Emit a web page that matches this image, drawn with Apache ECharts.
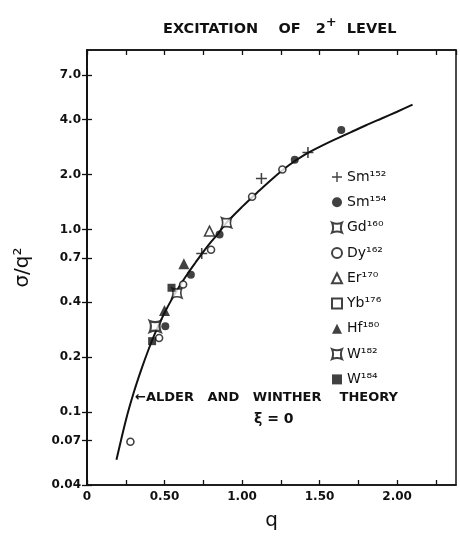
<!DOCTYPE html>
<html>
<head>
<meta charset="utf-8">
<script src="https://cdn.jsdelivr.net/npm/echarts@6/dist/echarts.min.js"></script>
<style>
  html, body { margin: 0; padding: 0; background: #fff; }
  #chart { width: 460px; height: 536px; }
</style>
</head>
<body>
<div id="chart"></div>
<script>
// measured points [q, sigma/q^2]
var sm152 = [[0.74, 0.74], [1.125, 1.90], [1.425, 2.64]];
var sm154 = [[0.505, 0.296], [0.67, 0.565], [0.855, 0.94], [1.34, 2.41], [1.64, 3.5]];
var gd160 = [[0.58, 0.45], [0.90, 1.09]];
var dy162 = [[0.28, 0.069], [0.465, 0.255], [0.62, 0.50], [0.80, 0.775], [1.065, 1.51], [1.26, 2.13]];
var er170 = [[0.79, 0.98]];
var yb176 = [];
var hf180 = [[0.50, 0.36], [0.625, 0.65]];
var w182 = [[0.44, 0.295]];
var w184 = [[0.42, 0.245], [0.545, 0.48]];

// Alder & Winther theory curve (xi = 0)
var theoryQ = [0.19, 0.25, 0.30, 0.35, 0.40, 0.45, 0.50, 0.55, 0.60, 0.65, 0.70, 0.75, 0.80, 0.85, 0.90,
               1.00, 1.10, 1.20, 1.30, 1.40, 1.50, 1.60, 1.70, 1.80, 1.90, 2.00, 2.10];
var theoryS = [0.055, 0.09, 0.127, 0.171, 0.224, 0.285, 0.35, 0.42, 0.495, 0.575, 0.66, 0.755, 0.855, 0.96, 1.09,
               1.33, 1.60, 1.91, 2.24, 2.55, 2.83, 3.11, 3.40, 3.72, 4.05, 4.41, 4.82];

// tick labels
var yTickVals = [0.04, 0.07, 0.1, 0.2, 0.4, 0.7, 1, 2, 4, 7];
var yTickText = ['0.04', '0.07', '0.1', '0.2', '0.4', '0.7', '1.0', '2.0', '4.0', '7.0'];
var xTickVals = [0, 0.5, 1, 1.5, 2];
var xTickText = ['0', '0.50', '1.00', '1.50', '2.00'];

var FONT = 'DejaVu Sans';
var ink = '#111';

var crossSym = 'path://M0,0 Q5,2.2 10,0 Q7.8,5 10,10 Q5,7.8 0,10 Q2.2,5 0,0 Z';
var plusSym = 'path://M4.3,0 L5.7,0 L5.7,4.3 L10,4.3 L10,5.7 L5.7,5.7 L5.7,10 L4.3,10 L4.3,5.7 L0,5.7 L0,4.3 L4.3,4.3 Z';

function pts(name, data, symbol, size, filled, bw) {
    return {
        name: name,
        type: 'scatter',
        data: data,
        symbol: symbol,
        symbolSize: size,
        itemStyle: {
            color: filled ? ink : '#fff',
            borderColor: ink,
            borderWidth: bw
        },
        z: 3
    };
}

var chart = echarts.init(document.getElementById('chart'));
var option = {
    animation: false,
    title: {
        text: '{a|EXCITATION    OF   2}{s|+}{a|  LEVEL}',
        left: 158,
        top: 11,
        textStyle: {
            rich: {
                a: { fontFamily: FONT, fontSize: 14.5, fontWeight: 'bold', color: ink, verticalAlign: 'bottom' },
                s: { fontFamily: FONT, fontSize: 13, fontWeight: 'bold', color: ink, verticalAlign: 'top', padding: [0, 0, 8, 0] }
            }
        }
    },
    legend: {
        orient: 'vertical',
        left: 326,
        top: 165,
        itemWidth: 10,
        itemHeight: 10,
        itemGap: 11.3,
        data: ['Sm¹⁵²', 'Sm¹⁵⁴', 'Gd¹⁶⁰', 'Dy¹⁶²', 'Er¹⁷⁰', 'Yb¹⁷⁶', 'Hf¹⁸⁰', 'W¹⁸²', 'W¹⁸⁴'],
        textStyle: { fontFamily: FONT, fontSize: 14, color: ink }
    },
    grid: {
        left: 87, right: 4, top: 50, bottom: 44,
        show: true, borderColor: ink, borderWidth: 1.5
    },
    xAxis: [{
        type: 'value',
        min: 0, max: 2.38, interval: 0.25,
        name: 'q',
        nameLocation: 'middle',
        nameGap: 26,
        nameTextStyle: { fontFamily: FONT, fontSize: 20, color: ink },
        axisLine: { lineStyle: { color: ink, width: 1.5 } },
        axisTick: { inside: true, length: 5, lineStyle: { color: ink, width: 1.3 } },
        axisLabel: {
            fontFamily: FONT, fontSize: 12, fontWeight: 'bold', color: ink, margin: 6,
            showMaxLabel: false,
            formatter: function (v) {
                var i = xTickVals.indexOf(v);
                return i < 0 ? '' : xTickText[i];
            }
        },
        splitLine: { show: false }
    }, {
        type: 'value',
        position: 'top',
        min: 0, max: 2.38, interval: 0.25,
        axisLine: { lineStyle: { color: ink, width: 1.5 } },
        axisTick: { inside: true, length: 5, lineStyle: { color: ink, width: 1.3 } },
        axisLabel: { show: false },
        splitLine: { show: false }
    }],
    yAxis: [{
        type: 'log',
        logBase: 10,
        min: 0.04, max: 9.6,
        name: 'σ/q²',
        nameLocation: 'middle',
        nameGap: 54,
        nameTextStyle: { fontFamily: FONT, fontSize: 20, color: ink },
        axisLine: { show: true, lineStyle: { color: ink, width: 1.5 } },
        axisTick: { inside: true, length: 5, customValues: yTickVals, lineStyle: { color: ink, width: 1.3 } },
        axisLabel: {
            fontFamily: FONT, fontSize: 12, fontWeight: 'bold', color: ink, margin: 6,
            customValues: yTickVals,
            formatter: function (v) {
                for (var i = 0; i < yTickVals.length; i++) {
                    if (Math.abs(yTickVals[i] - v) < 1e-6) return yTickText[i];
                }
                return '';
            }
        },
        splitLine: { show: false }
    }, {
        type: 'log',
        logBase: 10,
        position: 'right',
        min: 0.04, max: 9.6,
        axisLine: { show: true, lineStyle: { color: ink, width: 1.5 } },
        axisTick: { inside: true, length: 5, customValues: yTickVals, lineStyle: { color: ink, width: 1.3 } },
        axisLabel: { show: false },
        splitLine: { show: false }
    }],
    series: [
        {
            name: 'theory',
            type: 'line',
            data: theoryQ.map(function (q, i) { return [q, theoryS[i]]; }),
            smooth: 0.3,
            symbol: 'none',
            lineStyle: { color: ink, width: 2 },
            z: 2
        },
        pts('Sm¹⁵²', sm152, plusSym, 11, true, 0),
        pts('Sm¹⁵⁴', sm154, 'circle', 8, true, 0),
        pts('Gd¹⁶⁰', gd160, crossSym, 10, false, 1.6),
        pts('Dy¹⁶²', dy162, 'circle', 7, false, 1.6),
        pts('Er¹⁷⁰', er170, 'triangle', 10, false, 1.5),
        pts('Yb¹⁷⁶', yb176, 'rect', 8, false, 1.6),
        pts('Hf¹⁸⁰', hf180, 'triangle', 11, true, 0),
        pts('W¹⁸²', w182, crossSym, 11, false, 2.2),
        pts('W¹⁸⁴', w184, 'rect', 8, true, 0)
    ],
    graphic: [{
        type: 'text',
        left: 135,
        top: 391,
        style: {
            text: '←ALDER   AND   WINTHER    THEORY',
            fontFamily: FONT, fontSize: 13, fontWeight: 'bold', fill: ink
        }
    }, {
        type: 'text',
        left: 254,
        top: 412,
        style: {
            text: 'ξ = 0',
            fontFamily: FONT, fontSize: 14, fontWeight: 'bold', fill: ink
        }
    }]
};
chart.setOption(option);
</script>
</body>
</html>
